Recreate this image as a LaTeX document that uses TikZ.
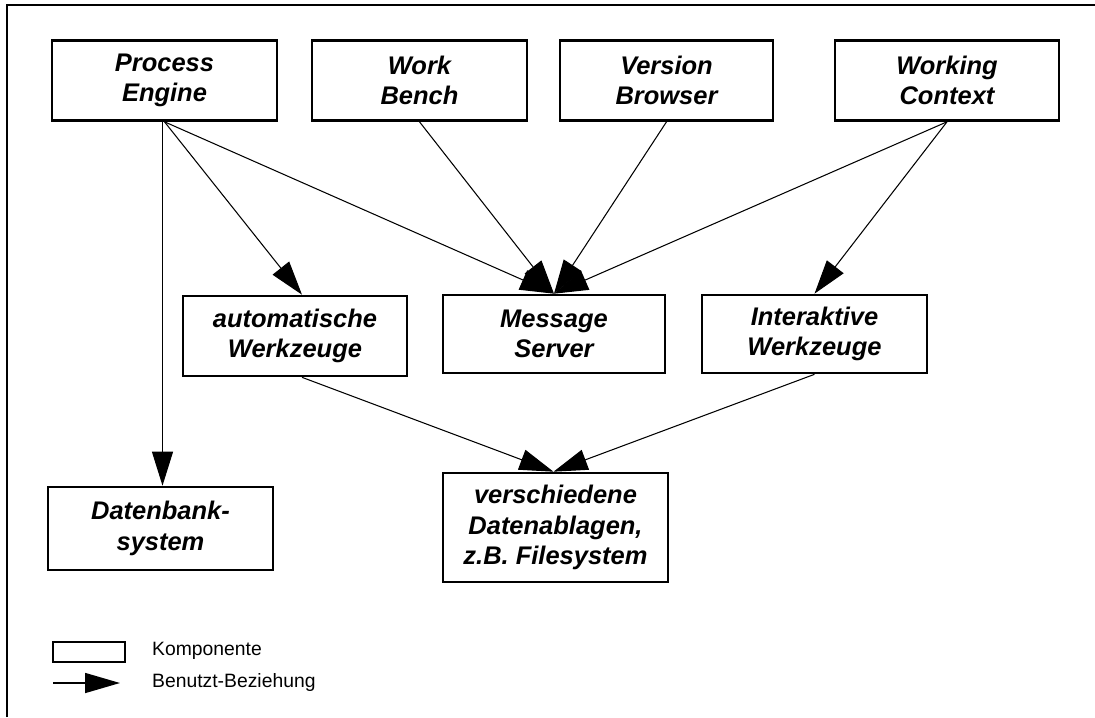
\documentclass[tikz,border=0pt]{standalone}
\usepackage{fontspec}
\setmainfont{Liberation Sans}
\usepackage{tikz}
\usetikzlibrary{arrows.meta, positioning, calc}

\tikzset{
  komp/.style={draw=black, line width=1.5pt, fill=white, align=center, inner sep=0pt,
    font=\fontsize{14.5}{17.4}\selectfont\bfseries\itshape},
  nutzt/.style={-{Triangle[length=0.68cm, width=0.42cm]}, line width=0.6pt}
}

\begin{document}
\begin{tikzpicture}[x=0.02cm, y=-0.02cm]
    \useasboundingbox (0,0) rectangle (1095,717);
    % Rahmen
    \draw[line width=1.5pt] (7,717) -- (7,5) -- (1095,5);

    % obere Reihe
    \node[komp, minimum width=4.5cm, minimum height=1.6cm] (pe) at (164.5,80.5) {Process\\Engine};
    \node[komp, minimum width=4.3cm, minimum height=1.6cm] (wb) at (419.5,80.5) {Work\\Bench};
    \node[komp, minimum width=4.26cm, minimum height=1.6cm] (vb) at (666.5,80.5) {Version\\Browser};
    \node[komp, minimum width=4.48cm, minimum height=1.6cm] (wc) at (947,80.5) {Working\\Context};

    % mittlere Reihe
    \node[komp, minimum width=4.48cm, minimum height=1.6cm] (aw) at (295,336) {automatische\\Werkzeuge};
    \node[komp, minimum width=4.44cm, minimum height=1.56cm] (ms) at (554,334) {Message\\Server};
    \node[komp, minimum width=4.5cm, minimum height=1.56cm] (iw) at (814.5,334) {Interaktive\\Werkzeuge};

    % untere Reihe
    \node[komp, minimum width=4.5cm, minimum height=1.66cm] (db) at (160.5,528.5) {Datenbank-\\system};
    \node[komp, minimum width=4.5cm, minimum height=2.18cm] (da) at (555.5,527.5) {verschiedene\\Datenablagen,\\z.B. Filesystem};

    % Benutzt-Beziehungen
    \draw[nutzt] ($(pe.south)+(-2,0)$) -- ($(pe.south |- db.north)+(-2,0)$);
    \draw[nutzt] (pe.south) -- ($(aw.north)+(7,0)$);
    \draw[nutzt] (pe.south) -- (ms.north);
    \draw[nutzt] (wb.south) -- (ms.north);
    \draw[nutzt] (vb.south) -- (ms.north);
    \draw[nutzt] (wc.south) -- (ms.north);
    \draw[nutzt] (wc.south) -- (iw.north);
    \draw[nutzt] ($(aw.south)+(7,0)$) -- ($(da.north)+(-2,0)$);
    \draw[nutzt] (iw.south) -- ($(da.north)+(-2,0)$);

    % Legende
    \node[draw=black, line width=1.5pt, minimum width=1.44cm, minimum height=0.4cm, inner sep=0pt] (lk) at (89,652) {};
    \node[anchor=west, font=\fontsize{11}{13}\selectfont] (tk) at (146,651) {Komponente};
    \coordinate (la) at (53,683);
    \coordinate (lb) at (120,683);
    \draw[-{Triangle[length=0.7cm, width=0.4cm]}, line width=0.9pt] (la) -- (lb);
    \node[anchor=west, font=\fontsize{11}{13}\selectfont] (tb) at (146,682) {Benutzt-Beziehung};
  \end{tikzpicture}
\end{document}
